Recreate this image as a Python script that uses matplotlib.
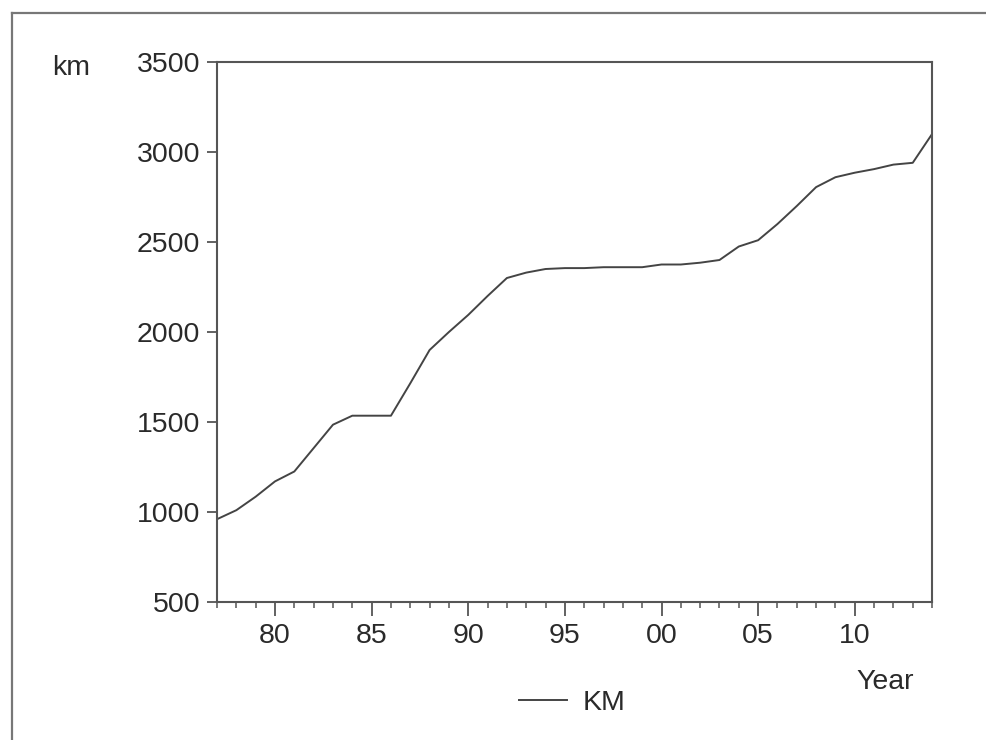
import matplotlib
matplotlib.use("Agg")
import matplotlib.pyplot as plt
from matplotlib.lines import Line2D

# values (km of network per year)
years = list(range(1977, 2015))
km = [960, 1010, 1085, 1170, 1225, 1355, 1485, 1535, 1535, 1535,
      1715, 1900, 2000, 2095, 2200, 2300, 2330, 2350, 2355, 2355,
      2360, 2360, 2360, 2375, 2375, 2385, 2400, 2475, 2510, 2600,
      2700, 2805, 2860, 2885, 2905, 2930, 2940, 3100]

ytick_vals = [500, 1000, 1500, 2000, 2500, 3000, 3500]
xtick_years = [1980, 1985, 1990, 1995, 2000, 2005, 2010]
xtick_labels = ['80', '85', '90', '95', '00', '05', '10']

plt.rcParams['font.family'] = ['Liberation Sans', 'DejaVu Sans']
txt_col = '#2a2a2a'
fs = 20.5

fig = plt.figure(figsize=(9.86, 7.4), dpi=100)
ax = fig.add_axes([0.2201, 0.1865, 0.7252, 0.7297])

ax.plot(years, km, color='#444444', lw=1.4, label='KM')

ax.set_xlim(1977, 2014)
ax.set_ylim(500, 3500)
ax.set_yticks(ytick_vals)
ax.set_xticks(xtick_years)
ax.set_xticklabels(xtick_labels)
ax.set_xticks(years, minor=True)

ax.tick_params(axis='y', direction='out', length=7, width=1.3, pad=5,
               labelsize=fs, colors='#555555', labelcolor=txt_col)
ax.tick_params(axis='x', which='major', direction='out', length=10, width=1.3,
               pad=5, labelsize=fs, colors='#555555', labelcolor=txt_col)
ax.tick_params(axis='x', which='minor', direction='out', length=4.5, width=1.1,
               colors='#555555')
for s in ax.spines.values():
    s.set_color('#555555')
    s.set_linewidth(1.5)

fig.text(52 / 986, 1 - 68 / 740, 'km', fontsize=fs, color=txt_col, va='center')
fig.text(885 / 986, 1 - 682 / 740, 'Year', fontsize=fs, color=txt_col,
         ha='center', va='center')

ax.legend(loc='center', bbox_to_anchor=(572 / 986, 1 - 703 / 740),
          bbox_transform=fig.transFigure, frameon=False, fontsize=fs,
          handlelength=1.7, handletextpad=0.55, labelcolor=txt_col)

# outer frame of the scanned page (top and left edges only)
fig.add_artist(Line2D([12 / 986, 1], [1 - 13 / 740, 1 - 13 / 740],
                      transform=fig.transFigure, color='#777777', lw=1.6))
fig.add_artist(Line2D([12 / 986, 12 / 986], [0, 1 - 13 / 740],
                      transform=fig.transFigure, color='#777777', lw=1.6))

fig.savefig('out.png', dpi=100)
